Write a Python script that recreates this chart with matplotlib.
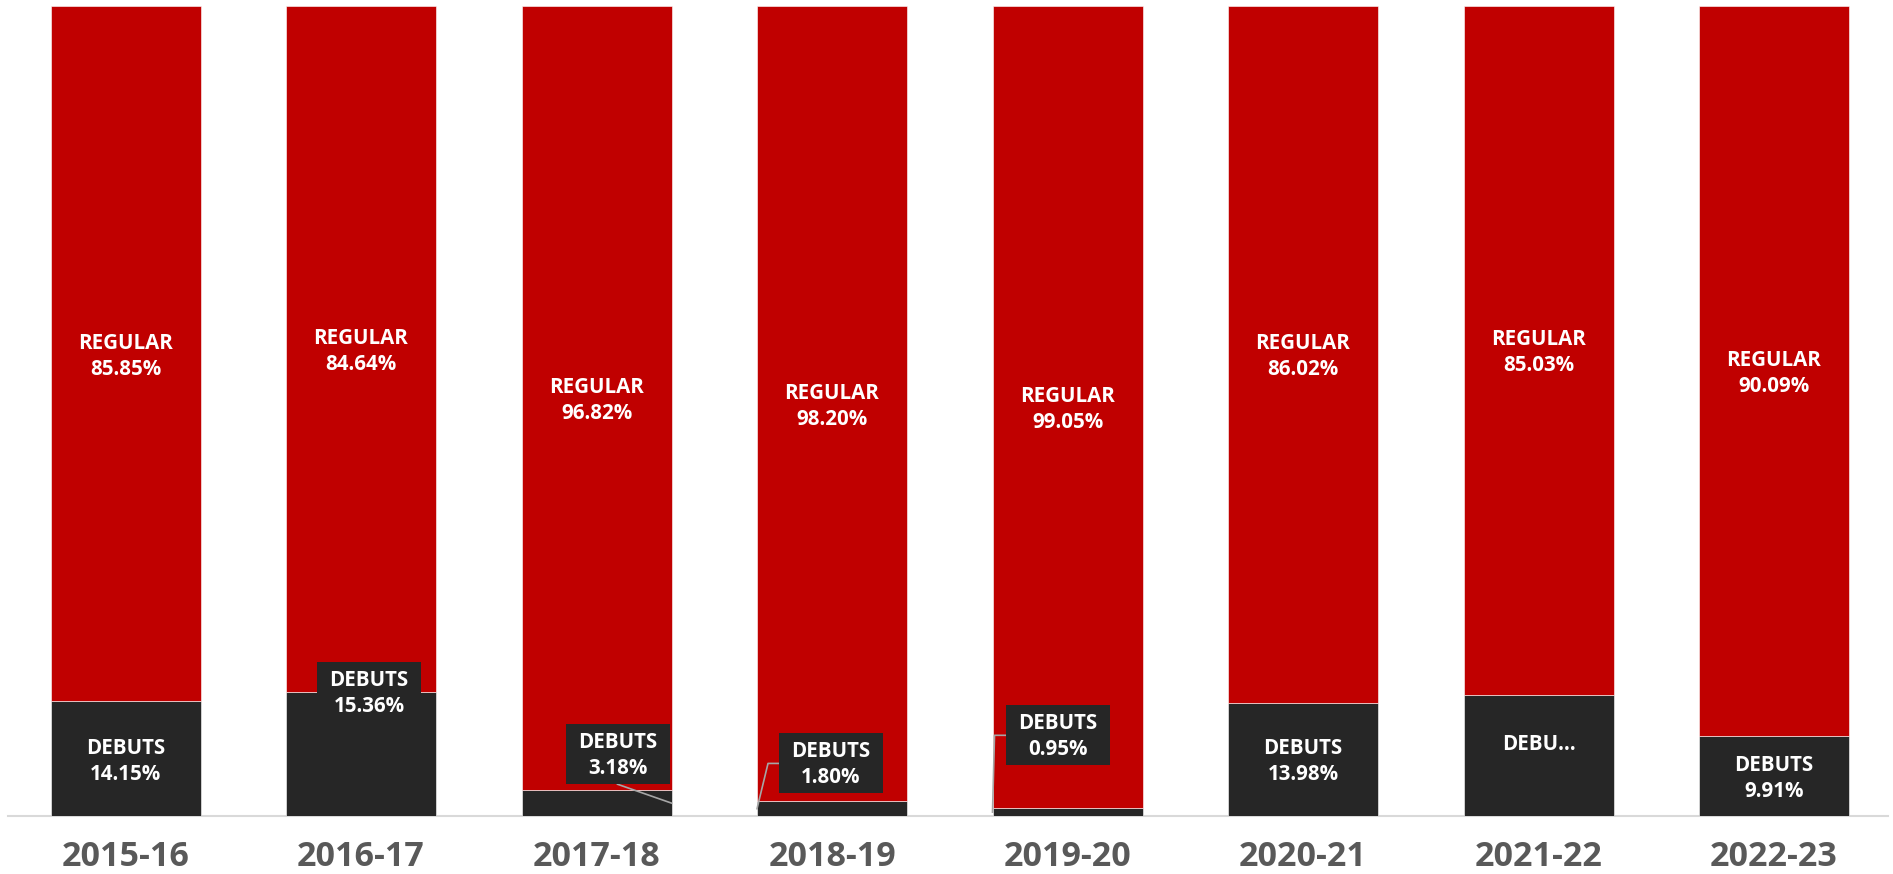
import matplotlib
matplotlib.use("Agg")
import matplotlib.pyplot as plt
from matplotlib.patches import Rectangle

seasons = ["2015-16", "2016-17", "2017-18", "2018-19",
           "2019-20", "2020-21", "2021-22", "2022-23"]
debuts = [14.15, 15.36, 3.18, 1.80, 0.95, 13.98, 14.97, 9.91]
regular = [85.85, 84.64, 96.82, 98.20, 99.05, 86.02, 85.03, 90.09]

RED = "#c00000"
DARK = "#262626"
LEADER = "#a6a6a6"
FONT = ["Open Sans", "DejaVu Sans"]

W, H, DPI = 1893, 874, 100

# how each debuts label is placed: inside the bar, or in a box (dx, dy px
# from bar centre / top of debuts segment) with an optional leader line
debut_layout = [
    ("inside",), ("box", 8, 0, None), ("box", 21, 36, "right"),
    ("box", -1, 38, "left"), ("box", -10, 73, "left"),
    ("inside",), ("short",), ("inside",),
]


def main():
    fig = plt.figure(figsize=(W / DPI, H / DPI), dpi=DPI)
    ax = fig.add_axes([8 / W, 58 / H, 1880 / W, 810 / H])
    xmin, xmax = -0.499, 7.484
    ax.set_xlim(xmin, xmax)
    ax.set_ylim(0, 100)
    px_x = 1880 / (xmax - xmin)   # pixels per x unit
    px_y = 810 / 100              # pixels per y unit
    bw = 150 / px_x

    x = list(range(len(seasons)))
    ax.bar(x, debuts, width=bw, color=DARK, edgecolor="#ffffff",
           linewidth=0.4, zorder=2)
    ax.bar(x, regular, width=bw, bottom=debuts, color=RED,
           edgecolor="#ffffff", linewidth=0.4, zorder=2)

    fs = 14.8
    tkw = dict(color="white", fontsize=fs, fontweight="bold", family=FONT,
               ha="center", va="baseline", zorder=5)

    def two_lines(xc, yc, top, bottom, up=5, down=21):
        ax.text(xc, yc + up / px_y, top, **tkw)
        ax.text(xc, yc - down / px_y, bottom, **tkw)

    for i in x:
        # regular label, centred in the red segment
        two_lines(i, debuts[i] + regular[i] / 2, "REGULAR", f"{regular[i]:.2f}%")

        lay = debut_layout[i]
        mid = debuts[i] / 2
        pct = f"{debuts[i]:.2f}%"
        if lay[0] == "inside":
            two_lines(i, mid, "DEBUTS", pct)
        elif lay[0] == "short":
            ax.text(i, mid + 5 / px_y, "DEBU\u2026", **tkw)
        else:
            _, dx, dy, side = lay
            bx = i + dx / px_x
            by = debuts[i] + dy / px_y
            bwid, bhei = 104 / px_x, 60 / px_y
            ax.add_patch(Rectangle((bx - bwid / 2, by - bhei / 2), bwid, bhei,
                                   facecolor=DARK, edgecolor="none", zorder=4,
                                   clip_on=False))
            two_lines(bx, by, "DEBUTS", pct, up=6, down=20)
            if side == "right":
                ax.plot([bx, i + bw / 2], [by - bhei / 2, mid], color=LEADER,
                        lw=1.2, zorder=3, clip_on=False)
            elif side == "left":
                lx = bx - bwid / 2
                ax.plot([lx, lx - 11 / px_x, i - bw / 2], [by, by, mid],
                        color=LEADER, lw=1.2, zorder=3, clip_on=False)

        ax.text(i, -50 / px_y, seasons[i], color="#595959", fontsize=24.5,
                fontweight="bold", family=FONT, ha="center", va="baseline")

    for s in ["top", "left", "right"]:
        ax.spines[s].set_visible(False)
    ax.spines["bottom"].set_color("#d9d9d9")
    ax.spines["bottom"].set_linewidth(1.5)
    ax.spines["bottom"].set_zorder(1)
    ax.set_xticks([])
    ax.set_yticks([])

    fig.savefig("out.png", dpi=DPI)


if __name__ == "__main__":
    main()
